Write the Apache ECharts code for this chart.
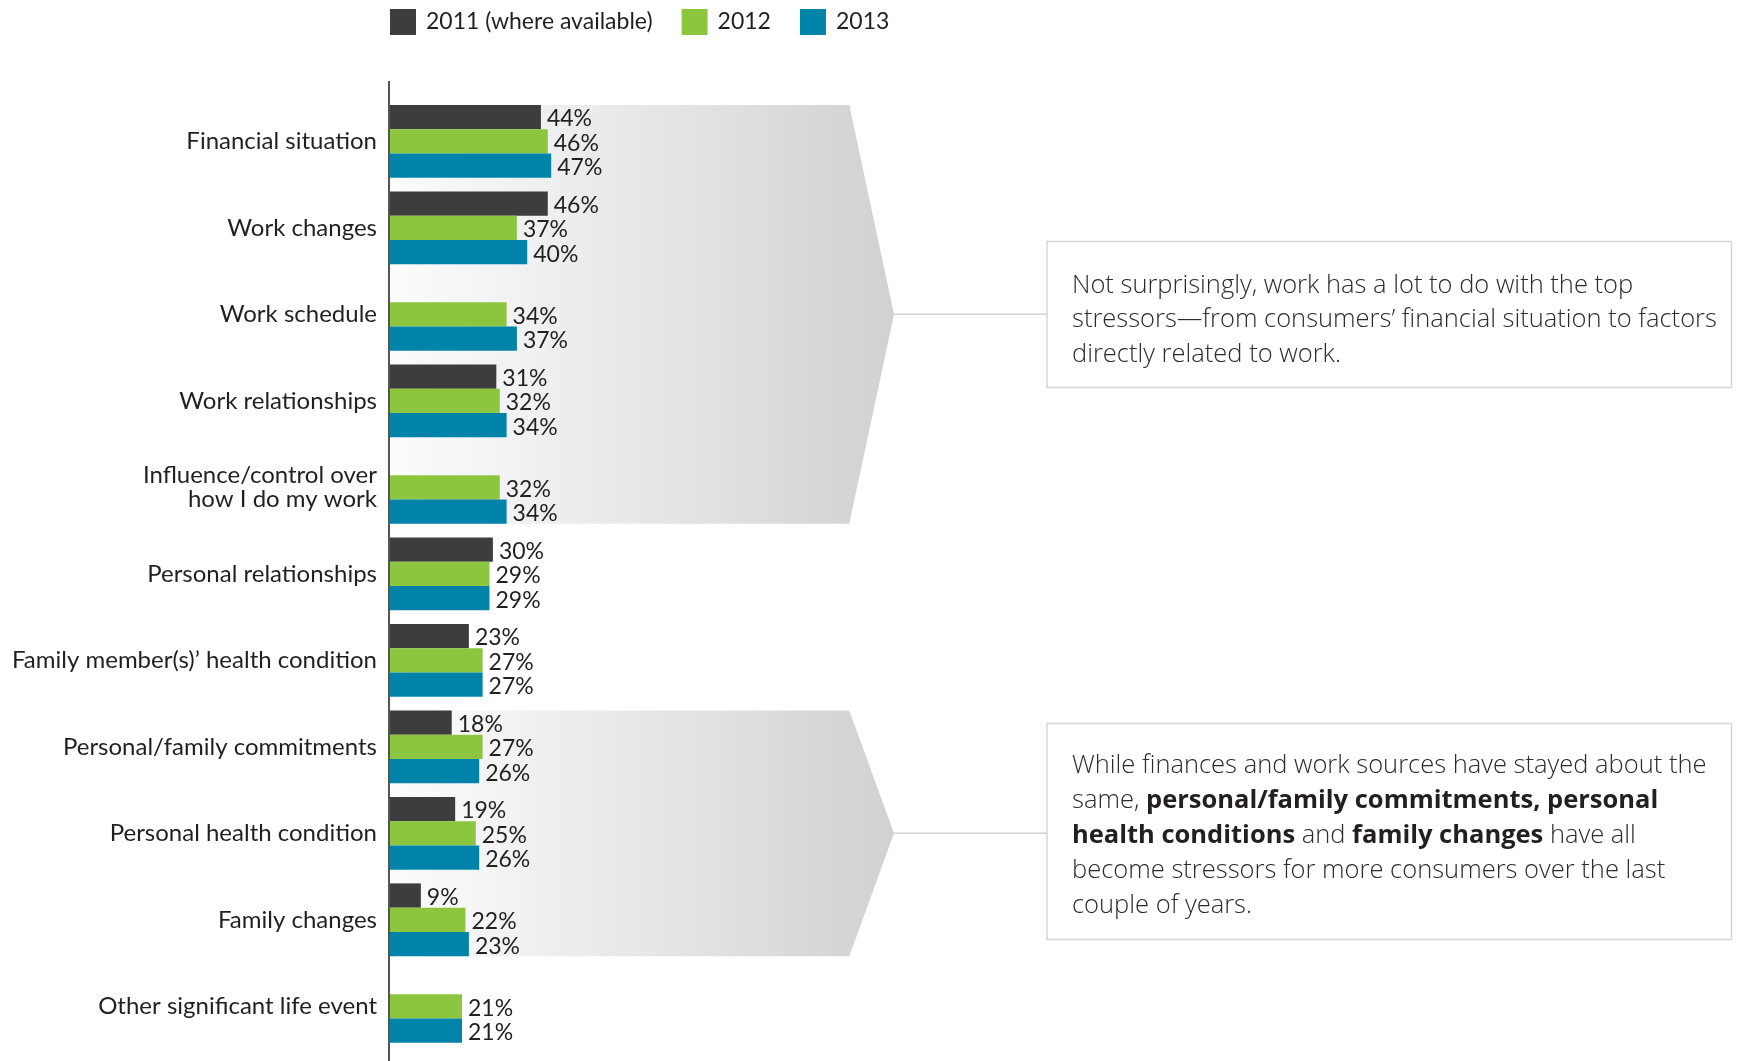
<!DOCTYPE html>
<html>
<head>
<meta charset="utf-8">
<title>Top stressors, 2011–2013</title>
<script src="https://cdn.jsdelivr.net/npm/echarts@6/dist/echarts.min.js"></script>
<style>
  html, body { margin: 0; padding: 0; background: #ffffff; }
  #chart { width: 1737px; height: 1061px; }
</style>
</head>
<body>
<div id="chart"></div>
<script>
// Stress sources, share of respondents (%)
const categories = [
  'Financial situation',
  'Work changes',
  'Work schedule',
  'Work relationships',
  'Influence/control over\nhow I do my work',
  'Personal relationships',
  'Family member(s)’ health condition',
  'Personal/family commitments',
  'Personal health condition',
  'Family changes',
  'Other significant life event'
];
const seriesNames = ['2011 (where available)', '2012', '2013'];
const values2011 = [44, 46, null, 31, null, 30, 23, 18, 19, 9, null];
const values2012 = [46, 37, 34, 32, 32, 29, 27, 27, 25, 22, 21];
const values2013 = [47, 40, 37, 34, 34, 29, 27, 26, 26, 23, 21];

// Category ranges highlighted by the two callouts (first, last index)
const calloutRanges = [[0, 4], [7, 9]];
const calloutTexts = [
  'Not surprisingly, work has a lot to do with the top\n' +
  'stressors—from consumers’ financial situation to factors\n' +
  'directly related to work.',
  'While finances and work sources have stayed about the\n' +
  'same, {b|personal/family commitments,} {b|personal}\n' +
  '{b|health conditions} and {b|family changes} have all\n' +
  'become stressors for more consumers over the last\n' +
  'couple of years.'
];

const COLORS = ['#3d3d3d', '#8cc63f', '#0083a9'];
const TEXT = '#231f20';
const LABEL_FONT = 'Lato, "DejaVu Sans Condensed", sans-serif';
const BODY_FONT = '"Open Sans", "Noto Sans", sans-serif';
const BAR_W = 24.3;

const chart = echarts.init(document.getElementById('chart'), null, { renderer: 'canvas' });

function barSeries(name, data, color) {
  return {
    name: name,
    type: 'bar',
    data: data,
    barWidth: BAR_W,
    barGap: '0%',
    itemStyle: { color: color },
    z: 2,
    label: {
      show: true,
      position: 'right',
      distance: 6,
      offset: [0, 2],
      formatter: '{c}%',
      color: TEXT,
      fontFamily: LABEL_FONT,
      fontSize: 23
    }
  };
}

const legendText = {
  color: TEXT,
  fontFamily: LABEL_FONT,
  fontSize: 23,
  padding: [0, 0, 0, 5]
};

chart.setOption({
  animation: false,
  backgroundColor: '#ffffff',
  legend: {
    data: [
      { name: seriesNames[0], textStyle: Object.assign({}, legendText, { padding: [0, 6, 0, 5] }) },
      { name: seriesNames[1] },
      { name: seriesNames[2] }
    ],
    left: 390,
    top: 9,
    padding: 0,
    itemWidth: 26,
    itemHeight: 26,
    itemGap: 29,
    icon: 'rect',
    selectedMode: false,
    textStyle: legendText
  },
  grid: {
    left: 390,
    right: 1004,
    top: 98.1,
    bottom: 11.4,
    containLabel: false,
    outerBoundsMode: 'none'
  },
  xAxis: {
    type: 'value',
    min: 0,
    max: 100,
    show: false,
    splitLine: { show: false }
  },
  yAxis: {
    type: 'category',
    data: categories,
    inverse: true,
    axisLine: { show: false },
    axisTick: { show: false },
    splitLine: { show: false },
    axisLabel: {
      margin: 13,
      color: TEXT,
      fontFamily: LABEL_FONT,
      fontSize: 24,
      lineHeight: 24,
      padding: [8, 0, 0, 0],
      align: 'right'
    }
  },
  series: [
    barSeries(seriesNames[0], values2011, COLORS[0]),
    barSeries(seriesNames[1], values2012, COLORS[1]),
    barSeries(seriesNames[2], values2013, COLORS[2])
  ]
});

// Decorations: chevron bands behind grouped categories, connectors and note boxes
const x0 = chart.convertToPixel({ xAxisIndex: 0 }, 0);
const rectRight = 849.3;
const tipX = 894;
const boxLeft = 1047;
const boxRight = 1731.5;
const boxTops = [241.5, 723.4];
const boxHeights = [146, 216];
const textTops = [268.5, 748.3];
const lineHeights = [34.4, 34.9];

const gradient = new echarts.graphic.LinearGradient(0, 0, 1, 0, [
  { offset: 0, color: '#fcfcfc' },
  { offset: 0.5, color: '#e6e7e9' },
  { offset: 1, color: '#d0d1d3' }
]);

const elements = [];
calloutRanges.forEach(function (range, i) {
  const yTop = chart.convertToPixel({ yAxisIndex: 0 }, range[0]) - 1.5 * BAR_W;
  const yBot = chart.convertToPixel({ yAxisIndex: 0 }, range[1]) + 1.5 * BAR_W;
  const yMid = (yTop + yBot) / 2;
  elements.push({
    type: 'polygon',
    z: 0,
    silent: true,
    shape: { points: [[x0, yTop], [rectRight, yTop], [tipX, yMid], [rectRight, yBot], [x0, yBot]] },
    style: { fill: gradient }
  });
  elements.push({
    type: 'line',
    z: 1,
    silent: true,
    shape: { x1: tipX, y1: yMid, x2: boxLeft, y2: yMid },
    style: { stroke: '#d2d2d2', lineWidth: 1.5 }
  });
  elements.push({
    type: 'rect',
    z: 1,
    silent: true,
    shape: { x: boxLeft, y: boxTops[i], width: boxRight - boxLeft, height: boxHeights[i] },
    style: { fill: '#ffffff', stroke: '#d6d6d6', lineWidth: 1.5 }
  });
  elements.push({
    type: 'text',
    z: 2,
    silent: true,
    x: 1072,
    y: textTops[i],
    style: {
      text: calloutTexts[i],
      fill: '#2b2b2b',
      fontFamily: BODY_FONT,
      fontWeight: 300,
      fontSize: 25.5,
      lineHeight: lineHeights[i],
      verticalAlign: 'top',
      rich: {
        b: {
          fill: '#231f20',
          fontFamily: BODY_FONT,
          fontWeight: 700,
          fontSize: 25.5,
          lineHeight: lineHeights[i]
        }
      }
    }
  });
});

// Vertical baseline of the bars
elements.push({
  type: 'line',
  z: 3,
  silent: true,
  shape: { x1: x0 - 1, y1: 81, x2: x0 - 1, y2: 1061 },
  style: { stroke: '#555555', lineWidth: 2 }
});

chart.setOption({ graphic: { elements: elements } });
</script>
</body>
</html>
